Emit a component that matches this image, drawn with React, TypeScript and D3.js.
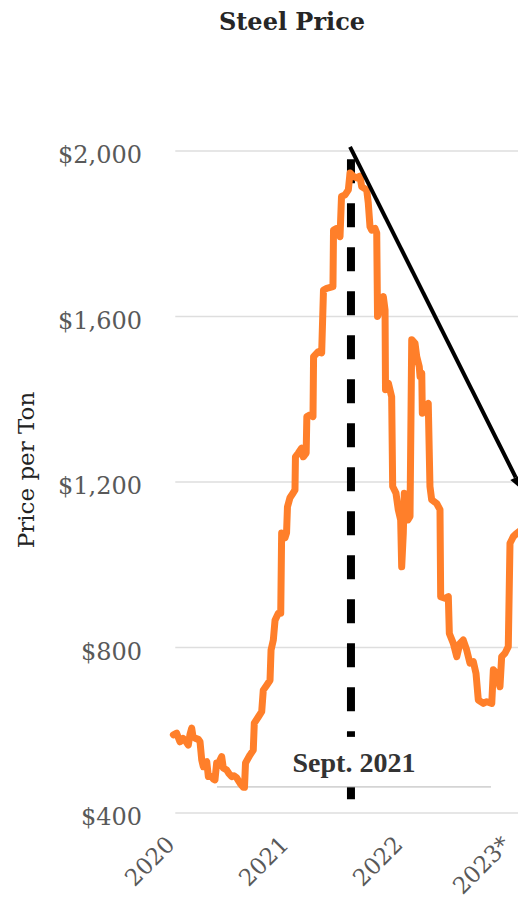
import React from 'react';
import * as d3 from 'd3';

const TITLE = 'Steel Price';
const Y_TITLE = 'Price per Ton';
const yTicks = [400, 800, 1200, 1600, 2000];
const xTicks = [2020, 2021, 2022, 2023];
const xTickLabels = ['2020', '2021', '2022', '2023*'];

// time as decimal years, price in $ per ton
const dates = [
  2019.968, 2019.997, 2020.026, 2020.053, 2020.070, 2020.099, 2020.114, 2020.129, 2020.140, 2020.158,
  2020.187, 2020.202, 2020.217, 2020.231, 2020.246, 2020.261, 2020.275, 2020.304, 2020.320, 2020.333,
  2020.348, 2020.368, 2020.377, 2020.392, 2020.406, 2020.436, 2020.456, 2020.480, 2020.500, 2020.524,
  2020.553, 2020.582, 2020.592, 2020.601, 2020.640, 2020.669, 2020.678, 2020.713, 2020.743, 2020.757,
  2020.787, 2020.816, 2020.825, 2020.845, 2020.860, 2020.889, 2020.910, 2020.918, 2020.947, 2020.961,
  2020.969, 2020.991, 2021.020, 2021.035, 2021.039, 2021.064, 2021.094, 2021.108, 2021.133, 2021.139,
  2021.167, 2021.193, 2021.198, 2021.239, 2021.269, 2021.285, 2021.313, 2021.368, 2021.373, 2021.401,
  2021.430, 2021.443, 2021.474, 2021.503, 2021.518, 2021.546, 2021.576, 2021.605, 2021.620, 2021.664,
  2021.678, 2021.693, 2021.708, 2021.737, 2021.752, 2021.759, 2021.781, 2021.810, 2021.825, 2021.829,
  2021.854, 2021.883, 2021.892, 2021.921, 2021.941, 2021.962, 2021.971, 2021.985, 2021.994, 2022.015,
  2022.024, 2022.044, 2022.059, 2022.088, 2022.103, 2022.125, 2022.132, 2022.147, 2022.152, 2022.175,
  2022.204, 2022.219, 2022.234, 2022.278, 2022.307, 2022.313, 2022.351, 2022.380, 2022.389, 2022.424,
  2022.454, 2022.482, 2022.511, 2022.541, 2022.570, 2022.599, 2022.623, 2022.643, 2022.687, 2022.717,
  2022.761, 2022.775, 2022.804, 2022.833, 2022.848, 2022.877, 2022.906, 2022.921, 2022.950, 2022.980,
  2023.026,
];
const prices = [
  589, 593, 572, 580, 576, 564, 590, 605, 585, 581,
  578, 572, 528, 512, 522, 524, 488, 488, 482, 480,
  521, 515, 528, 536, 509, 504, 495, 488, 490, 485,
  472, 462, 462, 521, 540, 552, 617, 632, 645, 697,
  709, 721, 794, 818, 866, 883, 883, 1077, 1065, 1077,
  1140, 1162, 1174, 1181, 1261, 1270, 1282, 1261, 1270, 1358,
  1362, 1358, 1503, 1515, 1512, 1664, 1668, 1672, 1809, 1813,
  1793, 1890, 1894, 1906, 1947, 1939, 1935, 1939, 1914, 1906,
  1874, 1817, 1809, 1813, 1802, 1600, 1620, 1648, 1616, 1423,
  1439, 1406, 1189, 1173, 1133, 1108, 995, 1076, 1173, 1165,
  1108, 1117, 1544, 1535, 1503, 1479, 1455, 1463, 1366, 1382,
  1390, 1189, 1157, 1148, 1133, 923, 919, 923, 834, 810,
  778, 810, 818, 794, 762, 766, 737, 673, 665, 669,
  665, 746, 737, 705, 778, 786, 802, 1052, 1068, 1076,
  1085,
];

const annotationDate = 2021.526;
const annotationLabel = 'Sept. 2021';
const annotationTop = 1980;
const annotationBottom = 427;
const labelBoxFrom = 2020.351;
const labelBoxTo = 2022.754;
const labelBoxLow = 463;
const labelBoxHigh = 584;
const arrowStart = { date: 2021.518, price: 2010 };
const arrowEnd = { date: 2023.026, price: 1181 };

export default function App() {
  const W = 518;
  const H = 900;
  const x = d3.scaleLinear().domain([2020, 2023]).range([177, 519]);
  const y = d3.scaleLinear().domain([400, 2000]).range([813, 151]);

  const points: [number, number][] = dates.map((d, i) => [d, prices[i]]);
  const line = d3
    .line<[number, number]>()
    .x((d) => x(d[0]))
    .y((d) => y(d[1]));

  const ax1 = x(arrowStart.date);
  const ay1 = y(arrowStart.price);
  const ax2 = x(arrowEnd.date);
  const ay2 = y(arrowEnd.price);
  const len = Math.hypot(ax2 - ax1, ay2 - ay1);
  const ux = (ax2 - ax1) / len;
  const uy = (ay2 - ay1) / len;
  const headL = 14;
  const headW = 6;
  const bx = ax2 - ux * headL;
  const by = ay2 - uy * headL;
  const head = `M${ax2},${ay2} L${bx - uy * headW},${by + ux * headW} L${bx + uy * headW},${by - ux * headW} Z`;

  const fmt = (v: number) => '$' + d3.format(',')(v);
  const serif = "'DejaVu Serif', Georgia, serif";

  return (
    <svg
      width={W}
      height={H}
      style={{ position: 'absolute', left: 0, top: 0, background: '#fff' }}
    >
      <text
        x={292}
        y={30}
        textAnchor="middle"
        fontFamily={serif}
        fontWeight="bold"
        fontSize={24}
        fill="#262626"
      >
        {TITLE}
      </text>

      {yTicks.map((t) => (
        <g key={t}>
          <line x1={x(2019.985)} x2={W + 20} y1={y(t)} y2={y(t)} stroke="#dedede" strokeWidth={1.5} />
          <text
            x={142}
            y={y(t) + 12}
            textAnchor="end"
            fontFamily={serif}
            fontSize={24}
            fill="#595959"
          >
            {fmt(t)}
          </text>
        </g>
      ))}

      <text
        transform={`translate(34, 470) rotate(-90)`}
        textAnchor="middle"
        fontFamily={serif}
        fontSize={23}
        fill="#222"
      >
        {Y_TITLE}
      </text>

      {xTicks.map((t, i) => (
        <text
          key={t}
          transform={`translate(${Math.min(x(t) - 1, W - 6)}, 846) rotate(-45)`}
          textAnchor="end"
          fontFamily={serif}
          fontSize={23}
          fill="#595959"
        >
          {xTickLabels[i]}
        </text>
      ))}

      <line
        x1={x(annotationDate)}
        x2={x(annotationDate)}
        y1={y(annotationTop)}
        y2={y(annotationBottom)}
        stroke="#000"
        strokeWidth={8}
        strokeDasharray="24 20"
      />
      <rect
        x={x(labelBoxFrom)}
        y={y(labelBoxHigh)}
        width={x(labelBoxTo) - x(labelBoxFrom)}
        height={y(labelBoxLow) - y(labelBoxHigh)}
        fill="#fff"
      />
      <line
        x1={x(labelBoxFrom)}
        x2={x(labelBoxTo)}
        y1={y(labelBoxLow)}
        y2={y(labelBoxLow)}
        stroke="#b4b4b4"
        strokeWidth={1}
      />
      <text
        x={x(annotationDate) + 3}
        y={772}
        textAnchor="middle"
        fontFamily="'Liberation Serif', 'Times New Roman', serif"
        fontWeight="bold"
        fontSize={28}
        fill="#333"
      >
        {annotationLabel}
      </text>

      <path
        d={line(points) || ''}
        fill="none"
        stroke="#FF7F2A"
        strokeWidth={7}
        strokeLinejoin="round"
        strokeLinecap="round"
      />

      <line x1={ax1} y1={ay1} x2={bx} y2={by} stroke="#000" strokeWidth={4} />
      <path d={head} fill="#000" />
    </svg>
  );
}
